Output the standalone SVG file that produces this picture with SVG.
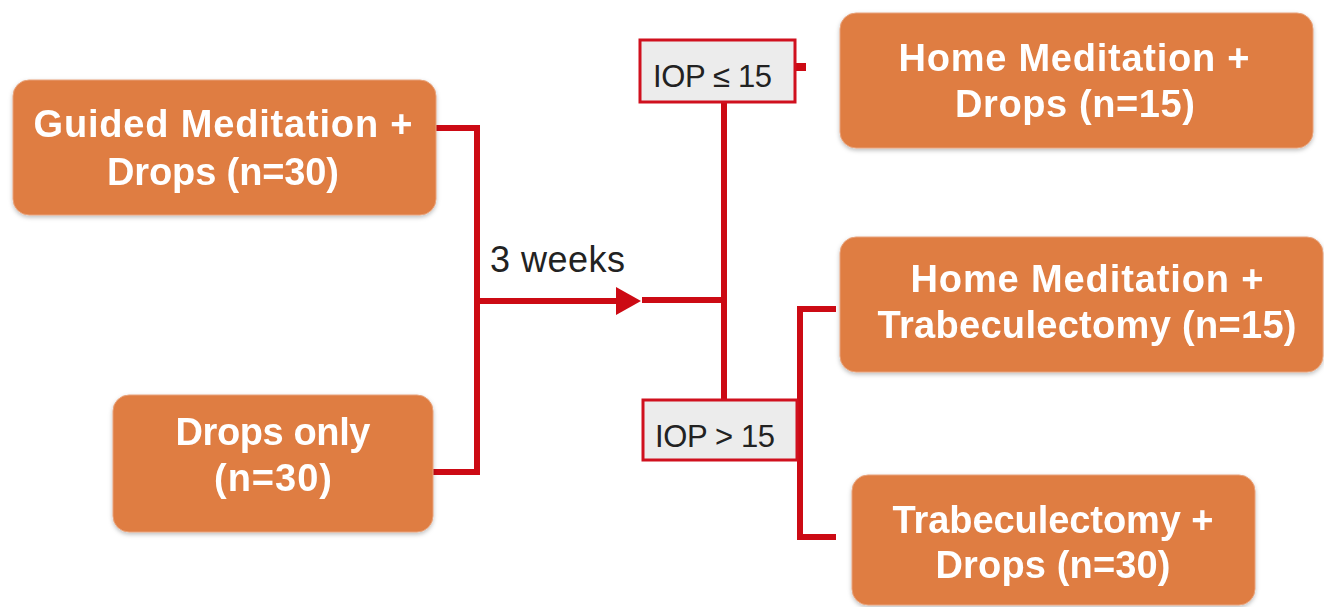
<svg xmlns="http://www.w3.org/2000/svg" width="1324" height="607" viewBox="0 0 1324 607">
<defs>
<style>
.box{fill:#DF7D42;stroke:#E8A27A;stroke-width:1}
.bt{font-family:"Liberation Sans",Arial,sans-serif;font-weight:bold;font-size:38px;fill:#FFFFFF;text-anchor:middle}
.lbl{fill:#ECECEC;stroke:#D0101E;stroke-width:3}
.lt{font-family:"Liberation Sans",Arial,sans-serif;font-size:31px;fill:#222222}
.ln{fill:none;stroke:#CC0A14;stroke-width:6;stroke-linejoin:miter}
</style>
<filter id="sh" x="-5%" y="-5%" width="110%" height="115%">
<feDropShadow dx="0" dy="2" stdDeviation="2" flood-color="#000" flood-opacity="0.25"/>
</filter>
</defs>
<rect width="1324" height="607" fill="#FFFFFF"/>

<g id="connectors">
<polyline class="ln" points="436,128 477,128 477,472 433,472"/>
<line class="ln" x1="477" y1="301" x2="618" y2="301"/>
<path d="M616,287 L641,301 L616,315 Z" fill="#CC0A14"/>
<line class="ln" x1="642" y1="300" x2="727" y2="300"/>
<line class="ln" x1="724" y1="102" x2="724" y2="400"/>
<line x1="795" y1="67" x2="806" y2="67" stroke="#CC0A14" stroke-width="8"/>
<polyline class="ln" points="836,309 800,309 800,537 836,537"/>
<text class="lt" x="490" y="272" style="font-size:36px" textLength="135">3 weeks</text>
</g>

<g id="iop-low">
<rect class="lbl" x="640" y="40" width="155" height="62"/>
<text class="lt" x="653" y="87" textLength="119">IOP ≤ 15</text>
</g>

<g id="iop-high">
<rect class="lbl" x="643" y="400" width="154" height="60"/>
<text class="lt" x="655" y="447" textLength="120">IOP &gt; 15</text>
</g>

<g id="guided" filter="url(#sh)">
<rect class="box" x="13" y="80" width="423" height="135" rx="16"/>
<text class="bt" x="223" y="137" textLength="379">Guided Meditation +</text>
<text class="bt" x="223" y="185" textLength="232">Drops (n=30)</text>
</g>

<g id="drops-only" filter="url(#sh)">
<rect class="box" x="113" y="395" width="320" height="137" rx="16"/>
<text class="bt" x="273" y="445" textLength="195">Drops only</text>
<text class="bt" x="273" y="491" textLength="118">(n=30)</text>
</g>

<g id="home-drops" filter="url(#sh)">
<rect class="box" x="840" y="13" width="473" height="135" rx="16"/>
<text class="bt" x="1074" y="71" textLength="351">Home Meditation +</text>
<text class="bt" x="1075" y="117" textLength="240">Drops (n=15)</text>
</g>

<g id="home-trab" filter="url(#sh)">
<rect class="box" x="840" y="237" width="483" height="135" rx="16"/>
<text class="bt" x="1087" y="292" textLength="353">Home Meditation +</text>
<text class="bt" x="1087" y="338" textLength="419">Trabeculectomy (n=15)</text>
</g>

<g id="trab-drops" filter="url(#sh)">
<rect class="box" x="852" y="475" width="403" height="130" rx="16"/>
<text class="bt" x="1053" y="533" textLength="321">Trabeculectomy +</text>
<text class="bt" x="1053" y="578" textLength="235">Drops (n=30)</text>
</g>
</svg>
